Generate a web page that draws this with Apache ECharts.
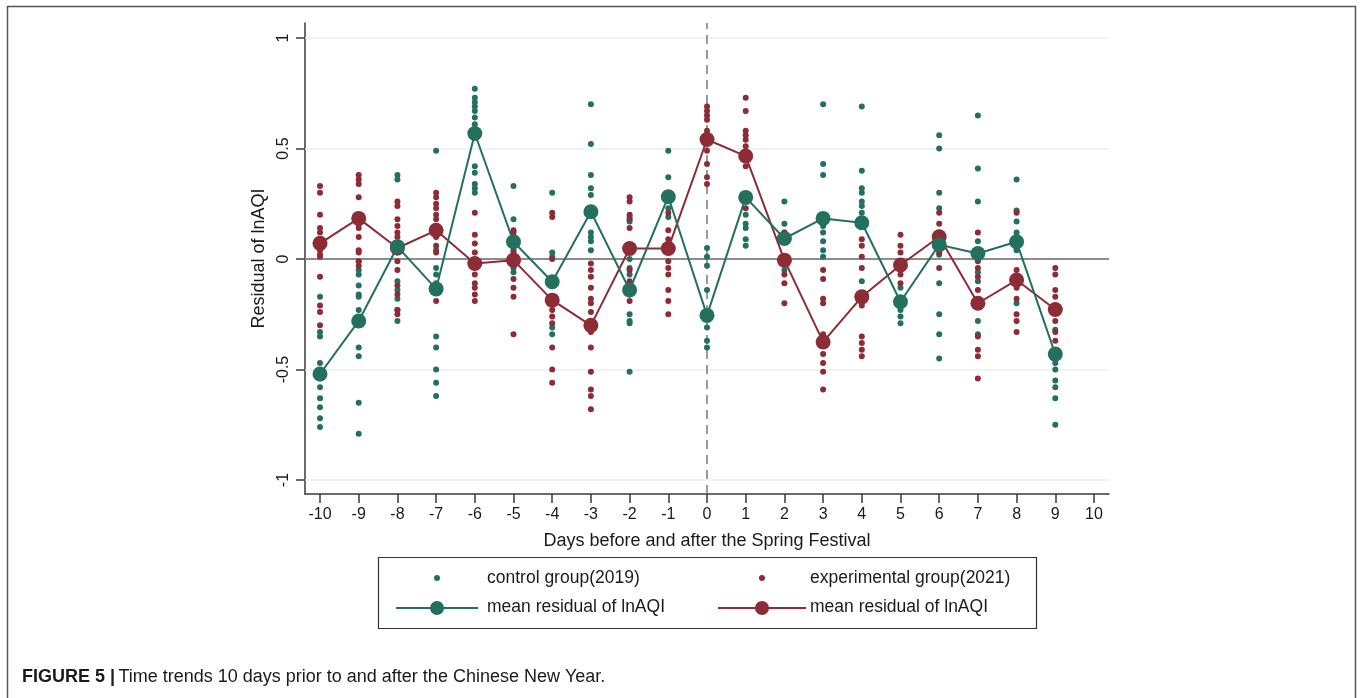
<!DOCTYPE html>
<html>
<head>
<meta charset="utf-8">
<script src="https://cdn.jsdelivr.net/npm/echarts@6/dist/echarts.min.js"></script>
<style>
html,body{margin:0;padding:0;background:#fff;}
#chart{width:1360px;height:698px;}
</style>
</head>
<body>
<div id="chart"></div>
<script>
// ---- data ----
const days = [-10,-9,-8,-7,-6,-5,-4,-3,-2,-1,0,1,2,3,4,5,6,7,8,9];
const xTicks = [-10,-9,-8,-7,-6,-5,-4,-3,-2,-1,0,1,2,3,4,5,6,7,8,9,10];
const yTicks = [-1,-0.5,0,0.5,1];
const yLabels = ['-1','-0.5','0','0.5','1'];

// control group (2019) residuals per day
const controlPts = [
  [-0.17,-0.33,-0.35,-0.47,-0.54,-0.58,-0.63,-0.67,-0.72,-0.76],
  [-0.01,-0.05,-0.07,-0.12,-0.16,-0.17,-0.23,-0.40,-0.44,-0.65,-0.79],
  [0.38,0.36,-0.10,-0.14,-0.18,-0.23,-0.28],
  [0.49,0.04,-0.04,-0.07,-0.11,-0.35,-0.40,-0.50,-0.56,-0.62],
  [0.77,0.73,0.71,0.69,0.67,0.64,0.61,0.42,0.39,0.34,0.32,0.30],
  [0.33,0.18,0.04,-0.03,-0.04,-0.06],
  [0.30,0.03,0.01,-0.31,-0.34],
  [0.70,0.52,0.38,0.32,0.29,0.12,0.10,0.08,0.04],
  [0.19,0.17,0.00,-0.04,-0.07,-0.25,-0.28,-0.29,-0.51],
  [0.49,0.37,0.23,0.19],
  [0.05,0.01,-0.03,-0.14,-0.31,-0.37,-0.40],
  [0.20,0.16,0.14,0.09,0.06],
  [0.26,0.16,0.12,-0.05],
  [0.70,0.43,0.38,0.15,0.12,0.08,0.04,0.01],
  [0.69,0.40,0.32,0.30,0.26,0.24,0.21,-0.10],
  [-0.13,-0.23,-0.26,-0.29],
  [0.56,0.50,0.30,0.23,0.02,-0.11,-0.25,-0.34,-0.45],
  [0.65,0.41,0.26,0.08,-0.06,-0.10,-0.28,-0.34],
  [0.36,0.22,0.17,0.12,0.04,-0.20],
  [-0.32,-0.47,-0.50,-0.55,-0.58,-0.63,-0.75]
];
// experimental group (2021) residuals per day
const experimentalPts = [
  [0.33,0.30,0.20,0.14,0.12,0.09,0.04,0.02,0.01,-0.08,-0.21,-0.24,-0.30],
  [0.38,0.36,0.34,0.28,0.16,0.14,0.10,0.04,0.03,-0.01,-0.03],
  [0.26,0.24,0.18,0.15,0.12,0.10,0.07,0.03,-0.01,-0.05,-0.12,-0.16,-0.23,-0.25],
  [0.30,0.28,0.25,0.23,0.20,0.18,0.15,0.10,0.06,0.03,-0.19],
  [0.21,0.11,0.07,0.03,-0.07,-0.11,-0.13,-0.16,-0.19],
  [0.13,0.12,0.09,0.03,-0.09,-0.13,-0.17,-0.34],
  [0.21,0.19,0.00,-0.11,-0.23,-0.26,-0.29,-0.40,-0.50,-0.56],
  [-0.02,-0.05,-0.08,-0.13,-0.18,-0.20,-0.24,-0.33,-0.40,-0.51,-0.59,-0.62,-0.68],
  [0.28,0.26,0.20,0.18,0.14,-0.05,-0.10,-0.16,-0.19],
  [0.21,0.13,0.09,-0.01,-0.04,-0.07,-0.14,-0.19,-0.25],
  [0.69,0.67,0.65,0.63,0.58,0.49,0.43,0.37,0.34],
  [0.73,0.67,0.58,0.56,0.54,0.51,0.42,0.23],
  [0.12,-0.07,-0.11,-0.20],
  [-0.05,-0.09,-0.18,-0.20,-0.34,-0.43,-0.47,-0.51,-0.59],
  [0.09,0.06,0.01,-0.04,-0.21,-0.35,-0.38,-0.41,-0.44],
  [0.11,0.06,0.03,-0.07,-0.11],
  [0.21,0.16,0.12,0.03,-0.04],
  [0.12,-0.01,-0.04,-0.08,-0.14,-0.35,-0.41,-0.44,-0.54],
  [0.21,-0.05,-0.13,-0.18,-0.25,-0.28,-0.33],
  [-0.04,-0.07,-0.14,-0.17,-0.28,-0.33,-0.37]
];
const controlMean = [-0.52,-0.28,0.056,-0.135,0.568,0.078,-0.103,0.214,-0.14,0.282,-0.255,0.279,0.093,0.184,0.164,-0.193,0.065,0.025,0.078,-0.43];
const experimentalMean = [0.071,0.184,0.05,0.13,-0.02,-0.005,-0.186,-0.30,0.048,0.048,0.541,0.466,-0.005,-0.375,-0.171,-0.027,0.101,-0.2,-0.095,-0.228];

const GREEN = '#24705f';
const RED = '#8d2b36';

function flatten(pts){
  const out=[];
  pts.forEach((arr,i)=>arr.forEach(v=>out.push([days[i],v])));
  return out;
}

const chart = echarts.init(document.getElementById('chart'));
const FONT = '"Liberation Sans", Arial, sans-serif';
const LFONT = '17.5px "Liberation Sans", Arial, sans-serif';

chart.setOption({
  animation:false,
  backgroundColor:'#fff',
  grid:{left:305,top:23,width:804,height:471,containLabel:false},
  xAxis:{
    type:'value', min:-10.388, max:10.388,
    name:'Days before and after the Spring Festival',
    nameLocation:'middle', nameGap:38,
    nameTextStyle:{fontFamily:FONT,fontSize:18,color:'#1a1a1a'},
    axisLine:{show:true,onZero:false,lineStyle:{color:'#3a3a3a',width:1.5}},
    axisTick:{show:true,length:9,customValues:xTicks,lineStyle:{color:'#3a3a3a',width:1.5}},
    axisLabel:{customValues:xTicks,margin:13,fontFamily:FONT,fontSize:16,color:'#1a1a1a',
      formatter:v=>String(v)},
    splitLine:{show:false}
  },
  yAxis:{
    type:'value', min:-1.063, max:1.068,
    name:'Residual of lnAQI',
    nameLocation:'middle', nameGap:36,
    nameTextStyle:{fontFamily:FONT,fontSize:18,color:'#1a1a1a'},
    axisLine:{show:true,onZero:false,lineStyle:{color:'#3a3a3a',width:1.5}},
    axisTick:{show:true,length:9,customValues:yTicks,lineStyle:{color:'#3a3a3a',width:1.5}},
    axisLabel:{customValues:yTicks,rotate:90,margin:13,fontFamily:FONT,fontSize:16,color:'#1a1a1a',
      formatter:v=>{const i=yTicks.findIndex(t=>Math.abs(t-v)<1e-9);return i>=0?yLabels[i]:String(v);}},
    splitLine:{show:false}
  },
  series:[
    {
      type:'scatter', name:'control group(2019)', data:flatten(controlPts),
      symbolSize:6, itemStyle:{color:GREEN,opacity:1}, z:3,
      markLine:{
        silent:true, symbol:'none', label:{show:false}, animation:false,
        data:[
          {yAxis:1,lineStyle:{color:'#e9eff5',width:1.5,type:'solid'}},
          {yAxis:0.5,lineStyle:{color:'#e9eff5',width:1.5,type:'solid'}},
          {yAxis:-0.5,lineStyle:{color:'#e9eff5',width:1.5,type:'solid'}},
          {yAxis:-1,lineStyle:{color:'#e9eff5',width:1.5,type:'solid'}},
          {yAxis:0,lineStyle:{color:'#8c8c8c',width:2,type:'solid'}},
          {xAxis:0,lineStyle:{color:'#7a7a7a',width:1.5,type:[9,6]}}
        ],
        z:1
      }
    },
    {
      type:'scatter', name:'experimental group(2021)', data:flatten(experimentalPts),
      symbolSize:6, itemStyle:{color:RED,opacity:1}, z:4
    },
    {
      type:'line', name:'mean residual of lnAQI (2021)', data:days.map((d,i)=>[d,experimentalMean[i]]),
      symbol:'circle', symbolSize:15, showAllSymbol:true,
      lineStyle:{color:RED,width:2}, itemStyle:{color:RED,opacity:1}, z:5
    },
    {
      type:'line', name:'mean residual of lnAQI (2019)', data:days.map((d,i)=>[d,controlMean[i]]),
      symbol:'circle', symbolSize:15, showAllSymbol:true,
      lineStyle:{color:GREEN,width:2}, itemStyle:{color:GREEN,opacity:1}, z:6
    }
  ],
  graphic:[
    // outer frame
    {type:'polyline',shape:{points:[[7.5,700],[7.5,6.5],[1355.5,6.5],[1355.5,700]]},
     style:{stroke:'#555',lineWidth:1.5,fill:null},silent:true},
    // legend box
    {type:'rect',shape:{x:378.5,y:557.5,width:658,height:71},style:{stroke:'#333',lineWidth:1.2,fill:'#fff'}},
    {type:'circle',shape:{cx:437,cy:578,r:3},style:{fill:GREEN}},
    {type:'text',style:{x:487,y:578,text:'control group(2019)',font:LFONT,fill:'#1a1a1a',verticalAlign:'middle'}},
    {type:'circle',shape:{cx:762,cy:578,r:3},style:{fill:RED}},
    {type:'text',style:{x:810,y:578,text:'experimental group(2021)',font:LFONT,fill:'#1a1a1a',verticalAlign:'middle'}},
    {type:'line',shape:{x1:396,y1:608,x2:478,y2:608},style:{stroke:GREEN,lineWidth:2}},
    {type:'circle',shape:{cx:437,cy:608,r:7},style:{fill:GREEN}},
    {type:'text',style:{x:487,y:607,text:'mean residual of lnAQI',font:LFONT,fill:'#1a1a1a',verticalAlign:'middle'}},
    {type:'line',shape:{x1:718,y1:608,x2:806,y2:608},style:{stroke:RED,lineWidth:2}},
    {type:'circle',shape:{cx:762,cy:608,r:7},style:{fill:RED}},
    {type:'text',style:{x:810,y:607,text:'mean residual of lnAQI',font:LFONT,fill:'#1a1a1a',verticalAlign:'middle'}},
    // caption
    {type:'text',style:{x:22,y:677,verticalAlign:'middle',
      text:'{b|FIGURE 5 |} {n|Time trends 10 days prior to and after the Chinese New Year.}',
      rich:{
        b:{fontFamily:FONT,fontWeight:'bold',fontSize:18,fill:'#1a1a1a'},
        n:{fontFamily:FONT,fontSize:18,fill:'#1a1a1a'}
      }}}
  ]
});
</script>
</body>
</html>
